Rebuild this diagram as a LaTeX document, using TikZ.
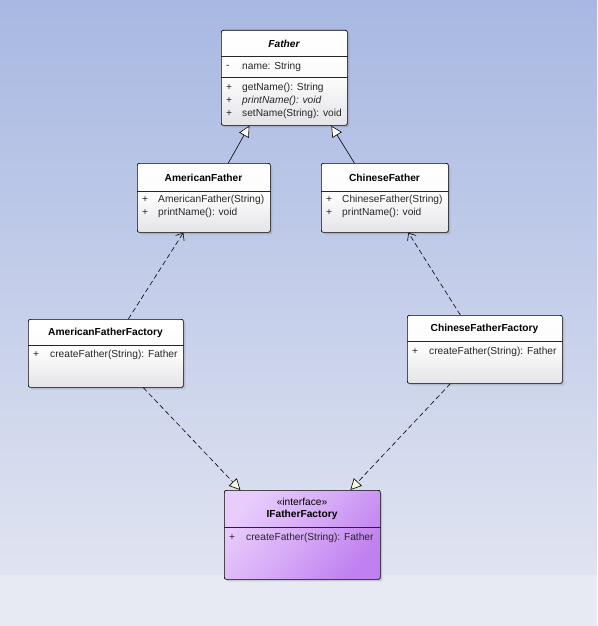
\documentclass[tikz,border=0pt]{standalone}
\usepackage{fontspec}
\setmainfont{Liberation Sans}
\usetikzlibrary{arrows.meta,shadows}
\definecolor{bgtop}{RGB}{168,184,226}
\definecolor{bgbot}{RGB}{224,228,241}
\definecolor{bgband}{RGB}{231,233,243}
\definecolor{purpA}{RGB}{232,204,252}
\definecolor{purpB}{RGB}{192,128,240}
\definecolor{boxgray}{RGB}{228,228,232}
\tikzset{
  classbox/.style={draw=black, line width=0.7pt, rounded corners=2pt, inner sep=0pt,
    anchor=north west, top color=white, bottom color=boxgray, middle color=white!97!gray,
    drop shadow={shadow xshift=2pt, shadow yshift=-2pt, opacity=0.3, fill=gray}},
  ifacebox/.style={classbox, top color=purpA, bottom color=purpB, middle color=purpA!55!purpB, shading angle=50},
  sep/.style={line width=0.6pt, draw=black!85},
  ttl/.style={font=\fontsize{10.2}{12}\selectfont\bfseries, inner sep=0pt},
  mem/.style={font=\fontsize{10.2}{12}\selectfont, inner sep=0pt, anchor=west, text=black!85},
  gen/.style={line width=0.6pt, -{Triangle[open, length=11pt, width=11pt, fill=white]}},
  dep/.style={line width=0.6pt, dash pattern=on 5pt off 3pt, -{Straight Barb[length=6pt, width=10pt]}},
  real/.style={line width=0.6pt, dash pattern=on 5pt off 3pt, -{Triangle[open, length=11pt, width=11pt, fill={rgb,255:red,250;green,250;blue,225}]}}
}
\begin{document}
\begin{tikzpicture}[x=1pt,y=-1pt]
\useasboundingbox (0,0) rectangle (597,626);
\shade[top color=bgtop, bottom color=bgbot] (0,0) rectangle (597,575);
\fill[bgband] (0,575) rectangle (597,626);

% Father
\node[classbox, minimum width=126pt, minimum height=95pt] (father) at (221,30) {};
\draw[sep] ([yshift=-26pt]father.north west) -- ([yshift=-26pt]father.north east);
\draw[sep] ([yshift=-47pt]father.north west) -- ([yshift=-47pt]father.north east);
\node[ttl, font=\fontsize{10.2}{12}\selectfont\bfseries\itshape] (fatherT) at (284,44) {Father};
\node[mem] (f1v) at (226,67) {-};
\node[mem] (f1) at (242,67) {name: String};
\node[mem] (f2v) at (226,88) {+};
\node[mem] (f2) at (242,88) {getName(): String};
\node[mem] (f3v) at (226,101) {+};
\node[mem, font=\fontsize{10.2}{12}\selectfont\itshape] (f3) at (242,101) {printName(): void};
\node[mem] (f4v) at (226,114) {+};
\node[mem] (f4) at (242,114) {setName(String): void};

% AmericanFather
\node[classbox, minimum width=133pt, minimum height=69pt] (af) at (137,163) {};
\draw[sep] ([yshift=-28pt]af.north west) -- ([yshift=-28pt]af.north east);
\node[ttl] (afT) at (203.5,178) {AmericanFather};
\node[mem] (af1v) at (142,200) {+};
\node[mem] (af1) at (158,200) {AmericanFather(String)};
\node[mem] (af2v) at (142,213) {+};
\node[mem] (af2) at (158,213) {printName(): void};

% ChineseFather
\node[classbox, minimum width=127pt, minimum height=69pt] (cf) at (321,163) {};
\draw[sep] ([yshift=-28pt]cf.north west) -- ([yshift=-28pt]cf.north east);
\node[ttl] (cfT) at (384.5,178) {ChineseFather};
\node[mem] (cf1v) at (326,200) {+};
\node[mem] (cf1) at (342,200) {ChineseFather(String)};
\node[mem] (cf2v) at (326,213) {+};
\node[mem] (cf2) at (342,213) {printName(): void};

% AmericanFatherFactory
\node[classbox, minimum width=155pt, minimum height=68pt] (aff) at (28,319) {};
\draw[sep] ([yshift=-26pt]aff.north west) -- ([yshift=-26pt]aff.north east);
\node[ttl] (affT) at (105.5,333) {AmericanFatherFactory};
\node[mem] (aff1v) at (33,355) {+};
\node[mem] (aff1) at (50,355) {createFather(String): Father};

% ChineseFatherFactory
\node[classbox, minimum width=155pt, minimum height=68pt] (cff) at (407,315) {};
\draw[sep] ([yshift=-26pt]cff.north west) -- ([yshift=-26pt]cff.north east);
\node[ttl] (cffT) at (484.5,329) {ChineseFatherFactory};
\node[mem] (cff1v) at (412,352) {+};
\node[mem] (cff1) at (429,352) {createFather(String): Father};

% IFatherFactory
\node[ifacebox, minimum width=156pt, minimum height=89pt] (iff) at (224,490) {};
\draw[sep] ([yshift=-37pt]iff.north west) -- ([yshift=-37pt]iff.north east);
\node[mem, anchor=center, text=black] (iffS) at (302,502) {«interface»};
\node[ttl] (iffT) at (302,515) {IFatherFactory};
\node[mem] (iff1v) at (229,538) {+};
\node[mem] (iff1) at (246,538) {createFather(String): Father};

% connectors
\draw[gen] ([xshift=24.5pt]af.north) -- ([xshift=-35pt]father.south);
\draw[gen] ([xshift=-30.5pt]cf.north) -- ([xshift=47pt]father.south);
\draw[dep] ([xshift=22.5pt]aff.north) -- ([xshift=-20.5pt]af.south);
\draw[dep] ([xshift=-24.5pt]cff.north) -- ([xshift=23.5pt]cf.south);
\draw[real] ([xshift=37.5pt]aff.south) -- ([xshift=-62pt]iff.north);
\draw[real] ([xshift=-34.5pt]cff.south) -- ([xshift=48pt]iff.north);
\end{tikzpicture}
\end{document}
